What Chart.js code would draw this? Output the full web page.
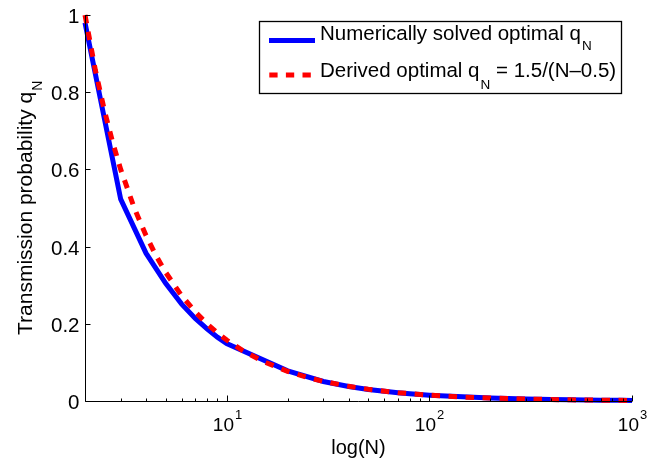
<!DOCTYPE html>
<html><head><meta charset="utf-8">
<script src="https://cdn.jsdelivr.net/npm/chart.js@4.4.0/dist/chart.umd.min.js"></script>
<style>html,body{margin:0;padding:0;background:#fff}#wrap{width:656px;height:461px}</style>
</head><body><div id="wrap"><canvas id="c" width="656" height="461"></canvas></div>
<script>
// Numerically solved optimal q_N (blue)
const numN = [2,3,4,5,6,7,8,9,10,20,30,40,50,60,70,80,90,100,200,300,400,500,600,700,800,900,1000];
const numQ = [0.98,0.523,0.383,0.305,0.251,0.214,0.187,0.1655,0.149,0.078,0.0505,0.0375,0.030,0.025,0.0214,0.0187,0.0166,0.015,0.0075,0.005,0.00375,0.003,0.0025,0.00214,0.00187,0.00167,0.0015];
// Derived optimal q_N (red dashed)
const derN = [2,2.25,2.5,2.75,3,3.5,4,4.5,5,6,7,8,9,10,12,15,20,25,30,40,50,70,100,150,200,300,500,700,1000];
const derQ = [1,0.8571,0.75,0.6667,0.6,0.5,0.4286,0.375,0.3333,0.2727,0.2308,0.2,0.1765,0.1579,0.1304,0.1034,0.0769,0.0612,0.0508,0.0380,0.0303,0.0216,0.0151,0.0100,0.00752,0.00501,0.0030,0.00215,0.0015];
// Ticks
const yTicks = [0,0.2,0.4,0.6,0.8,1];
const yTickLabels = ['0','0.2','0.4','0.6','0.8','1'];
const xMajor = [10,100,1000];
const xMajorExp = ['1','2','3'];
const xMinor = [2,3,4,5,6,7,8,9,20,30,40,50,60,70,80,90,200,300,400,500,600,700,800,900];
const seriesLabels = ['Numerically solved optimal q', 'Derived optimal q'];
const xTitle = 'log(N)';
const yTitle = 'Transmission probability q';

const FONT = '"Liberation Sans", Arial, Helvetica, sans-serif';

const decor = {
  id: 'decor',
  afterDraw(chart) {
    const ctx = chart.ctx, xs = chart.scales.x, ys = chart.scales.y, a = chart.chartArea;
    ctx.save();
    ctx.strokeStyle = '#000'; ctx.fillStyle = '#000'; ctx.lineWidth = 1; ctx.setLineDash([]);
    // axes
    const L = Math.round(a.left) + 0.5, B = Math.round(a.bottom) + 0.5;
    ctx.beginPath(); ctx.moveTo(L, a.top); ctx.lineTo(L, B); ctx.lineTo(a.right, B); ctx.stroke();
    // y ticks
    ctx.font = '20.5px ' + FONT; ctx.textAlign = 'right'; ctx.textBaseline = 'alphabetic';
    yTicks.forEach((v, i) => {
      const py = Math.round(ys.getPixelForValue(v)) + 0.5;
      ctx.beginPath(); ctx.moveTo(L, py); ctx.lineTo(L + 5, py); ctx.stroke();
      ctx.fillText(yTickLabels[i], L - 6, py + 7);
    });
    // x ticks
    xMinor.forEach(v => {
      const px = Math.round(xs.getPixelForValue(v)) + 0.5;
      ctx.beginPath(); ctx.moveTo(px, B); ctx.lineTo(px, B - 3); ctx.stroke();
    });
    xMajor.forEach((v, i) => {
      const px = Math.round(xs.getPixelForValue(v)) + 0.5;
      ctx.beginPath(); ctx.moveTo(px, B); ctx.lineTo(px, B - 6); ctx.stroke();
      ctx.textAlign = 'left';
      ctx.font = '19px ' + FONT; const w1 = ctx.measureText('10').width;
      ctx.font = '13px ' + FONT; const w2 = ctx.measureText(xMajorExp[i]).width;
      const x0 = px - (w1 + w2 + 1) / 2;
      ctx.font = '19px ' + FONT; ctx.fillText('10', x0, 431);
      ctx.font = '13px ' + FONT; ctx.fillText(xMajorExp[i], x0 + w1 + 1, 419);
    });
    // x title
    ctx.font = '20px ' + FONT; ctx.textAlign = 'center';
    ctx.fillText(xTitle, (a.left + a.right) / 2, 454);
    // y title (rotated)
    ctx.save();
    ctx.translate(32, 335); ctx.rotate(-Math.PI / 2);
    ctx.textAlign = 'left';
    ctx.font = '21px ' + FONT; ctx.fillText(yTitle, 0, 0);
    const wt = ctx.measureText(yTitle).width;
    ctx.font = '14px ' + FONT; ctx.fillText('N', wt + 1, 10);
    ctx.restore();
    // legend
    ctx.lineWidth = 1.3;
    ctx.strokeRect(259.5, 21.5, 362, 72);
    ctx.lineCap = 'butt';
    ctx.lineWidth = 5;
    ctx.strokeStyle = '#0000ff';
    ctx.beginPath(); ctx.moveTo(269, 40.5); ctx.lineTo(315, 40.5); ctx.stroke();
    ctx.strokeStyle = '#ff0000'; ctx.setLineDash([8.3, 8.3]);
    ctx.beginPath(); ctx.moveTo(269.3, 75); ctx.lineTo(315, 75); ctx.stroke();
    ctx.setLineDash([]);
    ctx.fillStyle = '#000'; ctx.textAlign = 'left';
    const LF = '20.5px ' + FONT, SF = '13.5px ' + FONT;
    ctx.font = LF;
    ctx.fillText(seriesLabels[0], 320, 40);
    let w = ctx.measureText(seriesLabels[0]).width;
    ctx.font = SF; ctx.fillText('N', 320 + w + 1, 50);
    ctx.font = LF;
    ctx.fillText(seriesLabels[1], 320, 77);
    w = ctx.measureText(seriesLabels[1]).width;
    ctx.font = SF; ctx.fillText('N', 320 + w + 1, 89);
    const wn = ctx.measureText('N').width;
    ctx.font = LF; ctx.fillText(' = 1.5/(N\u20130.5)', 320 + w + 1 + wn, 77);
    ctx.restore();
  }
};

new Chart(document.getElementById('c'), {
  type: 'line',
  data: {
    datasets: [
      { label: 'derived', data: derN.map((n, i) => ({x: n, y: derQ[i]})), borderColor: '#ff0000', borderWidth: 5,
        borderDash: [8.5, 8.5], borderCapStyle: 'butt', pointRadius: 0, tension: 0, fill: false, order: 0, clip: false },
      { label: 'numerical', data: numN.map((n, i) => ({x: n, y: numQ[i]})), borderColor: '#0000ff', borderWidth: 5,
        pointRadius: 0, tension: 0, fill: false, order: 1, clip: false }
    ]
  },
  options: {
    responsive: false, animation: false, devicePixelRatio: 1,
    layout: { padding: { left: 85, top: 15, right: 24, bottom: 60 } },
    plugins: { legend: { display: false }, tooltip: { enabled: false } },
    scales: {
      x: { type: 'logarithmic', min: 2, max: 1000, display: false },
      y: { type: 'linear', min: 0, max: 1, display: false }
    }
  },
  plugins: [decor]
});
</script></body></html>
